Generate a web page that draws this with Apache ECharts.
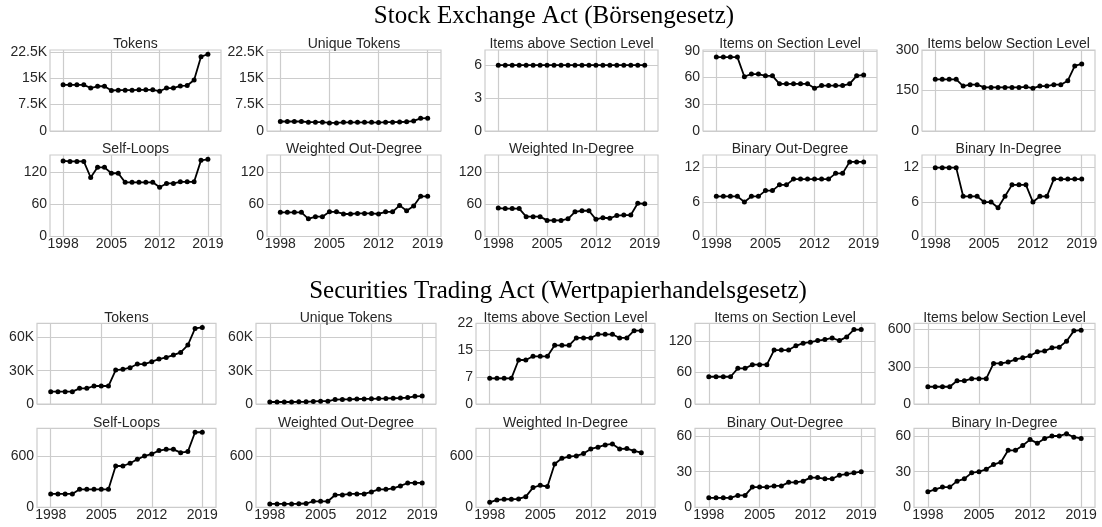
<!DOCTYPE html>
<html>
<head>
<meta charset="utf-8">
<script src="https://cdn.jsdelivr.net/npm/echarts@6.0.0/dist/echarts.min.js"></script>
<style>
html,body{margin:0;padding:0;background:#fff;}
#chart{width:1102px;height:527px;}
</style>
</head>
<body>
<div id="chart"></div>
<script>
// ---------- data ----------
const years = [1998,1999,2000,2001,2002,2003,2004,2005,2006,2007,2008,2009,2010,2011,2012,2013,2014,2015,2016,2017,2018,2019];
const xTicks = [1998, 2005, 2012, 2019];

const mainTitles = ["Stock Exchange Act (B\u00f6rsengesetz)", "Securities Trading Act (Wertpapierhandelsgesetz)"];
const panelTitlesTop = ["Tokens", "Unique Tokens", "Items above Section Level", "Items on Section Level", "Items below Section Level"];
const panelTitlesBottom = ["Self-Loops", "Weighted Out-Degree", "Weighted In-Degree", "Binary Out-Degree", "Binary In-Degree"];

// Stock Exchange Act
const stockTokens       = [13100,13100,13100,13100,12200,12700,12700,11500,11600,11600,11600,11700,11700,11700,11300,12200,12200,12800,12900,14500,21100,21800];
const stockUniqueTokens = [2700,2700,2700,2700,2500,2500,2500,2300,2300,2450,2450,2450,2450,2450,2400,2500,2500,2550,2600,2850,3600,3650];
const stockItemsAbove   = [6,6,6,6,6,6,6,6,6,6,6,6,6,6,6,6,6,6,6,6,6,6];
const stockItemsOn      = [83,83,83,83,61,64,64,62,62,53,53,53,53,53,48,51,51,51,51,53,62,63];
const stockItemsBelow   = [192,192,192,192,167,172,172,162,162,162,162,162,162,164,159,167,167,172,172,187,242,249];
const stockSelfLoops    = [141,140,140,140,110,129,129,118,118,101,101,101,101,101,92,99,99,102,102,102,142,144];
const stockWOut         = [45,45,45,45,33,37,37,46,46,42,42,43,43,43,42,46,46,58,48,57,75,75];
const stockWIn          = [53,52,52,52,37,37,37,30,30,30,33,46,48,48,32,35,34,39,40,40,62,61];
const stockBinOut       = [7,7,7,7,6,7,7,8,8,9,9,10,10,10,10,10,10,11,11,13,13,13];
const stockBinIn        = [12,12,12,12,7,7,7,6,6,5,7,9,9,9,6,7,7,10,10,10,10,10];

// Securities Trading Act
const secTokens       = [11100,11100,11100,11100,14100,14100,16200,16200,16200,30600,31200,32700,36000,36000,38100,40500,42000,44100,46500,53100,68100,69000];
const secUniqueTokens = [1800,1800,1800,1800,2000,2000,2300,2500,2500,4000,4100,4200,4500,4600,4700,4900,5000,5200,5400,5800,6900,7100];
const secItemsAbove   = [7,7,7,7,12,12,13,13,13,16,16,16,18,18,18,19,19,19,18,18,20,20];
const secItemsOn      = [52,52,52,52,68,68,75,75,75,103,103,103,111,116,118,121,123,126,121,128,142,142];
const secItemsBelow   = [139,139,139,139,187,187,204,204,204,327,327,338,359,372,388,421,426,453,458,506,589,595];
const secSelfLoops    = [158,158,158,158,213,213,213,213,213,489,489,521,568,607,631,671,686,686,647,659,888,888];
const secWOut         = [40,40,40,40,42,45,71,71,71,146,146,158,158,158,182,213,213,225,253,288,288,288];
const secWIn          = [59,87,95,95,99,126,233,261,245,513,580,600,608,636,691,711,738,750,691,695,667,647];
const secBinOut       = [8,8,8,8,10,10,17,17,17,18,18,21,21,22,25,25,24,24,27,28,29,30];
const secBinIn        = [13,15,17,17,22,24,29,30,32,36,38,48,48,52,57,54,58,60,60,62,59,58];

// tick values
const stockTokenTicks  = [0, 7500, 15000, 22500];
const stockAboveTicks  = [0, 3, 6];
const stockOnTicks     = [0, 30, 60, 90];
const stockBelowTicks  = [0, 150, 300];
const stockDegreeTicks = [0, 60, 120];
const stockBinaryTicks = [0, 6, 12];
const secTokenTicks    = [0, 30000, 60000];
const secAboveTicks    = [0, 7.333, 14.667, 22];
const secOnTicks       = [0, 60, 120];
const secBelowTicks    = [0, 300, 600];
const secDegreeTicks   = [0, 600];
const secBinaryTicks   = [0, 30, 60];

// ---------- layout ----------
const rows = [
  {top: 50,    height: 81,   lefts: [50, 267, 485, 703, 922], widths: [171, 174, 173, 174, 173]},
  {top: 155,   height: 81.5, lefts: [50, 267, 485, 703, 922], widths: [171, 174, 173, 174, 173]},
  {top: 323.3, height: 80.7, lefts: [37, 256, 476, 695, 914], widths: [179, 180, 179, 180, 181]},
  {top: 428.3, height: 79,   lefts: [37, 256, 476, 695, 914], widths: [179, 180, 179, 180, 181]}
];
const panels = [
  // row 0
  {r:0,c:0,title:panelTitlesTop[0],data:stockTokens,ticks:stockTokenTicks,max:23000},
  {r:0,c:1,title:panelTitlesTop[1],data:stockUniqueTokens,ticks:stockTokenTicks,max:23000},
  {r:0,c:2,title:panelTitlesTop[2],data:stockItemsAbove,ticks:stockAboveTicks,max:7.38},
  {r:0,c:3,title:panelTitlesTop[3],data:stockItemsOn,ticks:stockOnTicks,max:91},
  {r:0,c:4,title:panelTitlesTop[4],data:stockItemsBelow,ticks:stockBelowTicks,max:301},
  // row 1
  {r:1,c:0,title:panelTitlesBottom[0],data:stockSelfLoops,ticks:stockDegreeTicks,max:152,xl:true},
  {r:1,c:1,title:panelTitlesBottom[1],data:stockWOut,ticks:stockDegreeTicks,max:152,xl:true},
  {r:1,c:2,title:panelTitlesBottom[2],data:stockWIn,ticks:stockDegreeTicks,max:152,xl:true},
  {r:1,c:3,title:panelTitlesBottom[3],data:stockBinOut,ticks:stockBinaryTicks,max:14.2,xl:true},
  {r:1,c:4,title:panelTitlesBottom[4],data:stockBinIn,ticks:stockBinaryTicks,max:14.2,xl:true},
  // row 2
  {r:2,c:0,title:panelTitlesTop[0],data:secTokens,ticks:secTokenTicks,max:72700},
  {r:2,c:1,title:panelTitlesTop[1],data:secUniqueTokens,ticks:secTokenTicks,max:72700},
  {r:2,c:2,title:panelTitlesTop[2],data:secItemsAbove,ticks:secAboveTicks,max:22},
  {r:2,c:3,title:panelTitlesTop[3],data:secItemsOn,ticks:secOnTicks,max:154},
  {r:2,c:4,title:panelTitlesTop[4],data:secItemsBelow,ticks:secBelowTicks,max:650},
  // row 3
  {r:3,c:0,title:panelTitlesBottom[0],data:secSelfLoops,ticks:secDegreeTicks,max:935,xl:true},
  {r:3,c:1,title:panelTitlesBottom[1],data:secWOut,ticks:secDegreeTicks,max:935,xl:true},
  {r:3,c:2,title:panelTitlesBottom[2],data:secWIn,ticks:secDegreeTicks,max:935,xl:true},
  {r:3,c:3,title:panelTitlesBottom[3],data:secBinOut,ticks:secBinaryTicks,max:66.5,xl:true},
  {r:3,c:4,title:panelTitlesBottom[4],data:secBinIn,ticks:secBinaryTicks,max:66.5,xl:true}
];

const GRID_COLOR = '#cccccc';
const TEXT_COLOR = '#262626';
const FONT = 'Liberation Sans';

function fmtY(v) {
  if (v >= 1000) return (v / 1000) + 'K';
  return String(Math.round(v));
}

const grids = [], xAxes = [], yAxes = [], series = [];
const titles = [
  {text: mainTitles[0], left: 554, top: 4, textAlign: 'center', padding: 0,
   textStyle: {fontFamily: 'Liberation Serif', fontSize: 25, fontWeight: 'normal', color: '#000'}},
  {text: mainTitles[1], left: 558, top: 278.5, textAlign: 'center', padding: 0,
   textStyle: {fontFamily: 'Liberation Serif', fontSize: 25, fontWeight: 'normal', color: '#000'}}
];

panels.forEach((p, i) => {
  const row = rows[p.r];
  const left = row.lefts[p.c], width = row.widths[p.c];
  grids.push({left: left, top: row.top, width: width, height: row.height,
    show: true, borderColor: GRID_COLOR, borderWidth: 1.2, backgroundColor: '#fff', containLabel: false});
  xAxes.push({
    type: 'value', gridIndex: i, min: 1996.1, max: 2020.9,
    axisLine: {show: false},
    axisTick: {show: false, customValues: xTicks},
    axisLabel: {show: !!p.xl, customValues: xTicks, margin: 1, fontFamily: FONT, fontSize: 14, color: TEXT_COLOR,
      formatter: v => String(v)},
    splitLine: {show: true, lineStyle: {color: GRID_COLOR, width: 1.2}}
  });
  yAxes.push({
    type: 'value', gridIndex: i, min: 0, max: p.max,
    axisLine: {show: false},
    axisTick: {show: false, customValues: p.ticks},
    axisLabel: {customValues: p.ticks, margin: 3, fontFamily: FONT, fontSize: 14, color: TEXT_COLOR, formatter: fmtY},
    splitLine: {show: true, lineStyle: {color: GRID_COLOR, width: 1.2}}
  });
  series.push({
    type: 'line', xAxisIndex: i, yAxisIndex: i,
    data: years.map((y, k) => [y, p.data[k]]),
    symbol: 'circle', symbolSize: 5, showSymbol: true,
    lineStyle: {color: '#000', width: 1.8},
    itemStyle: {color: '#000'},
    silent: true, animation: false
  });
  titles.push({
    text: p.title, left: left + width / 2, top: row.top - 12.5, textAlign: 'center', padding: 0,
    textStyle: {fontFamily: FONT, fontSize: 14, fontWeight: 'normal', color: TEXT_COLOR}
  });
});

const chart = echarts.init(document.getElementById('chart'), null, {renderer: 'canvas'});
chart.setOption({
  backgroundColor: '#fff',
  animation: false,
  textStyle: {fontFamily: FONT},
  title: titles,
  grid: grids,
  xAxis: xAxes,
  yAxis: yAxes,
  series: series
});
</script>
</body>
</html>
